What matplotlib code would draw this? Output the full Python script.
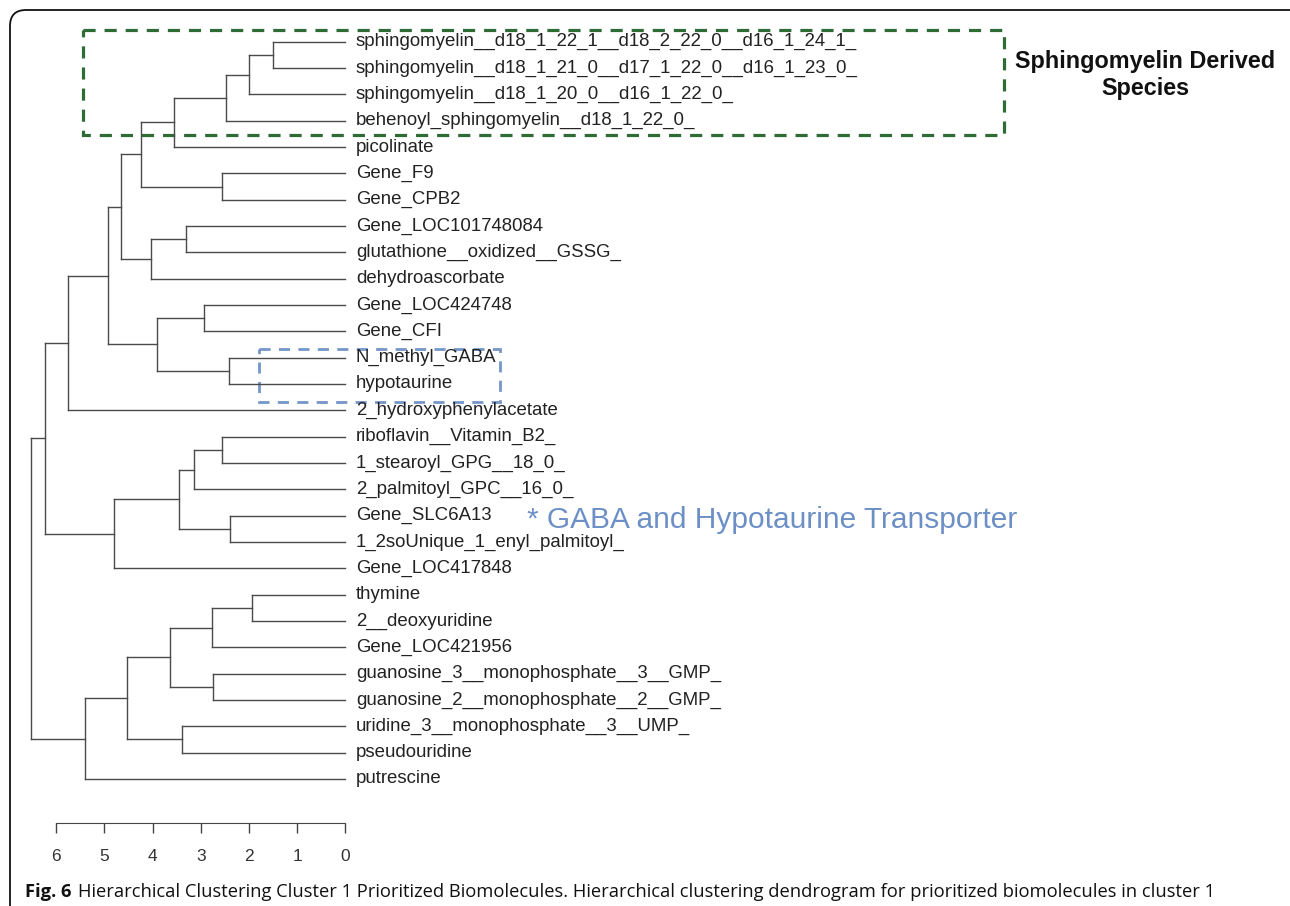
import matplotlib.pyplot as plt
from matplotlib.patches import FancyBboxPatch, Rectangle

# leaves, top to bottom
labels = [
    "sphingomyelin__d18_1_22_1__d18_2_22_0__d16_1_24_1_",
    "sphingomyelin__d18_1_21_0__d17_1_22_0__d16_1_23_0_",
    "sphingomyelin__d18_1_20_0__d16_1_22_0_",
    "behenoyl_sphingomyelin__d18_1_22_0_",
    "picolinate",
    "Gene_F9",
    "Gene_CPB2",
    "Gene_LOC101748084",
    "glutathione__oxidized__GSSG_",
    "dehydroascorbate",
    "Gene_LOC424748",
    "Gene_CFI",
    "N_methyl_GABA",
    "hypotaurine",
    "2_hydroxyphenylacetate",
    "riboflavin__Vitamin_B2_",
    "1_stearoyl_GPG__18_0_",
    "2_palmitoyl_GPC__16_0_",
    "Gene_SLC6A13",
    "1_2soUnique_1_enyl_palmitoyl_",
    "Gene_LOC417848",
    "thymine",
    "2__deoxyuridine",
    "Gene_LOC421956",
    "guanosine_3__monophosphate__3__GMP_",
    "guanosine_2__monophosphate__2__GMP_",
    "uridine_3__monophosphate__3__UMP_",
    "pseudouridine",
    "putrescine",
]

# linkage: node n+k joins merge_a[k] and merge_b[k] at merge_h[k]
merge_a = [0, 21, 29, 18, 12, 31, 15, 5, 24, 30, 10, 35, 7, 26,
           40, 34, 38, 39, 41, 44, 45, 48, 43, 50, 49, 52, 54, 55]
merge_b = [1, 22, 2, 19, 13, 3, 16, 6, 25, 23, 11, 17, 8, 27,
           32, 4, 37, 33, 9, 36, 42, 47, 20, 46, 28, 14, 51, 53]
merge_h = [1.50, 1.94, 2.01, 2.39, 2.42, 2.48, 2.55, 2.56, 2.74, 2.77,
           2.93, 3.14, 3.31, 3.39, 3.45, 3.55, 3.64, 3.90, 4.04, 4.24,
           4.53, 4.65, 4.79, 4.92, 5.40, 5.76, 6.23, 6.52]

ticks = [6, 5, 4, 3, 2, 1, 0]

W, H = 1290, 906
fig = plt.figure(figsize=(W / 100, H / 100), dpi=100)
plt.rcParams['font.family'] = ['Liberation Sans', 'DejaVu Sans']

# overlay axes in pixel units for frame and annotations
ov = fig.add_axes([0, 0, 1, 1])
ov.set_xlim(0, W)
ov.set_ylim(H, 0)
ov.axis('off')

ax = fig.add_axes([56 / W, 1 - 823 / H, 289.5 / W, (823 - 41.7) / H])
ax.patch.set_visible(False)
ax.set_xlim(6, 0)
ax.set_ylim((823 - 41.7) / 26.33, 0)

n = len(labels)
ny = {i: float(i) for i in range(n)}
nx = {i: 0.0 for i in range(n)}
lc = '#4a4a4a'
for k in range(len(merge_h)):
    a, b, h = merge_a[k], merge_b[k], merge_h[k]
    ax.plot([h, h], [ny[a], ny[b]], color=lc, lw=1.0, clip_on=False)
    ax.plot([nx[a], h], [ny[a], ny[a]], color=lc, lw=1.0, clip_on=False)
    ax.plot([nx[b], h], [ny[b], ny[b]], color=lc, lw=1.0, clip_on=False)
    ny[n + k] = (ny[a] + ny[b]) / 2
    nx[n + k] = h

for i, lab in enumerate(labels):
    ax.annotate(lab, (0, i), xytext=(7.5, 0), textcoords='offset points',
                va='center', ha='left', fontsize=13.4, color='#222222',
                annotation_clip=False)

for s in ['top', 'right', 'left']:
    ax.spines[s].set_visible(False)
ax.spines['bottom'].set_color('#444444')
ax.set_yticks([])
ax.set_xticks(ticks)
ax.set_xticklabels([str(t) for t in ticks])
ax.tick_params(axis='x', direction='out', length=7, width=1, color='#444444',
               labelsize=12.5, labelcolor='#333333', pad=12)

# frame
ov.add_patch(FancyBboxPatch((10, 10), 1400, 1000,
                            boxstyle='round,pad=0,rounding_size=16',
                            fill=False, ec='#111111', lw=1.3))

# highlight boxes
ov.add_patch(Rectangle((83, 30), 921, 105, fill=False, ec='#2f6b34', lw=2.3,
                       ls=(0, (3.8, 2.8))))
ov.add_patch(Rectangle((259, 349), 241, 53, fill=False, ec='#7496c8', lw=2.0,
                       ls=(0, (4, 3))))
ov.text(1145, 75, "Sphingomyelin Derived\nSpecies", ha='center', va='center',
        fontsize=16.8, fontweight='bold', color='#111111', linespacing=1.25)
ov.text(527, 520, "* GABA and Hypotaurine Transporter", ha='left',
        va='center', fontsize=21.5, color='#6c8fc6')

# caption
cap_font = ['Open Sans', 'DejaVu Sans']
t1 = ov.text(25, 892, "Fig. 6", ha='left', va='center', fontsize=13.25,
             fontweight='bold', family=cap_font, color='#111111')
fig.canvas.draw()
bb = t1.get_window_extent()
ov.text(bb.x1 + 6, 892,
        "Hierarchical Clustering Cluster 1 Prioritized Biomolecules. "
        "Hierarchical clustering dendrogram for prioritized biomolecules in cluster 1",
        ha='left', va='center', fontsize=13.25, family=cap_font, color='#111111')

plt.savefig('out.png', dpi=100)
plt.close()
